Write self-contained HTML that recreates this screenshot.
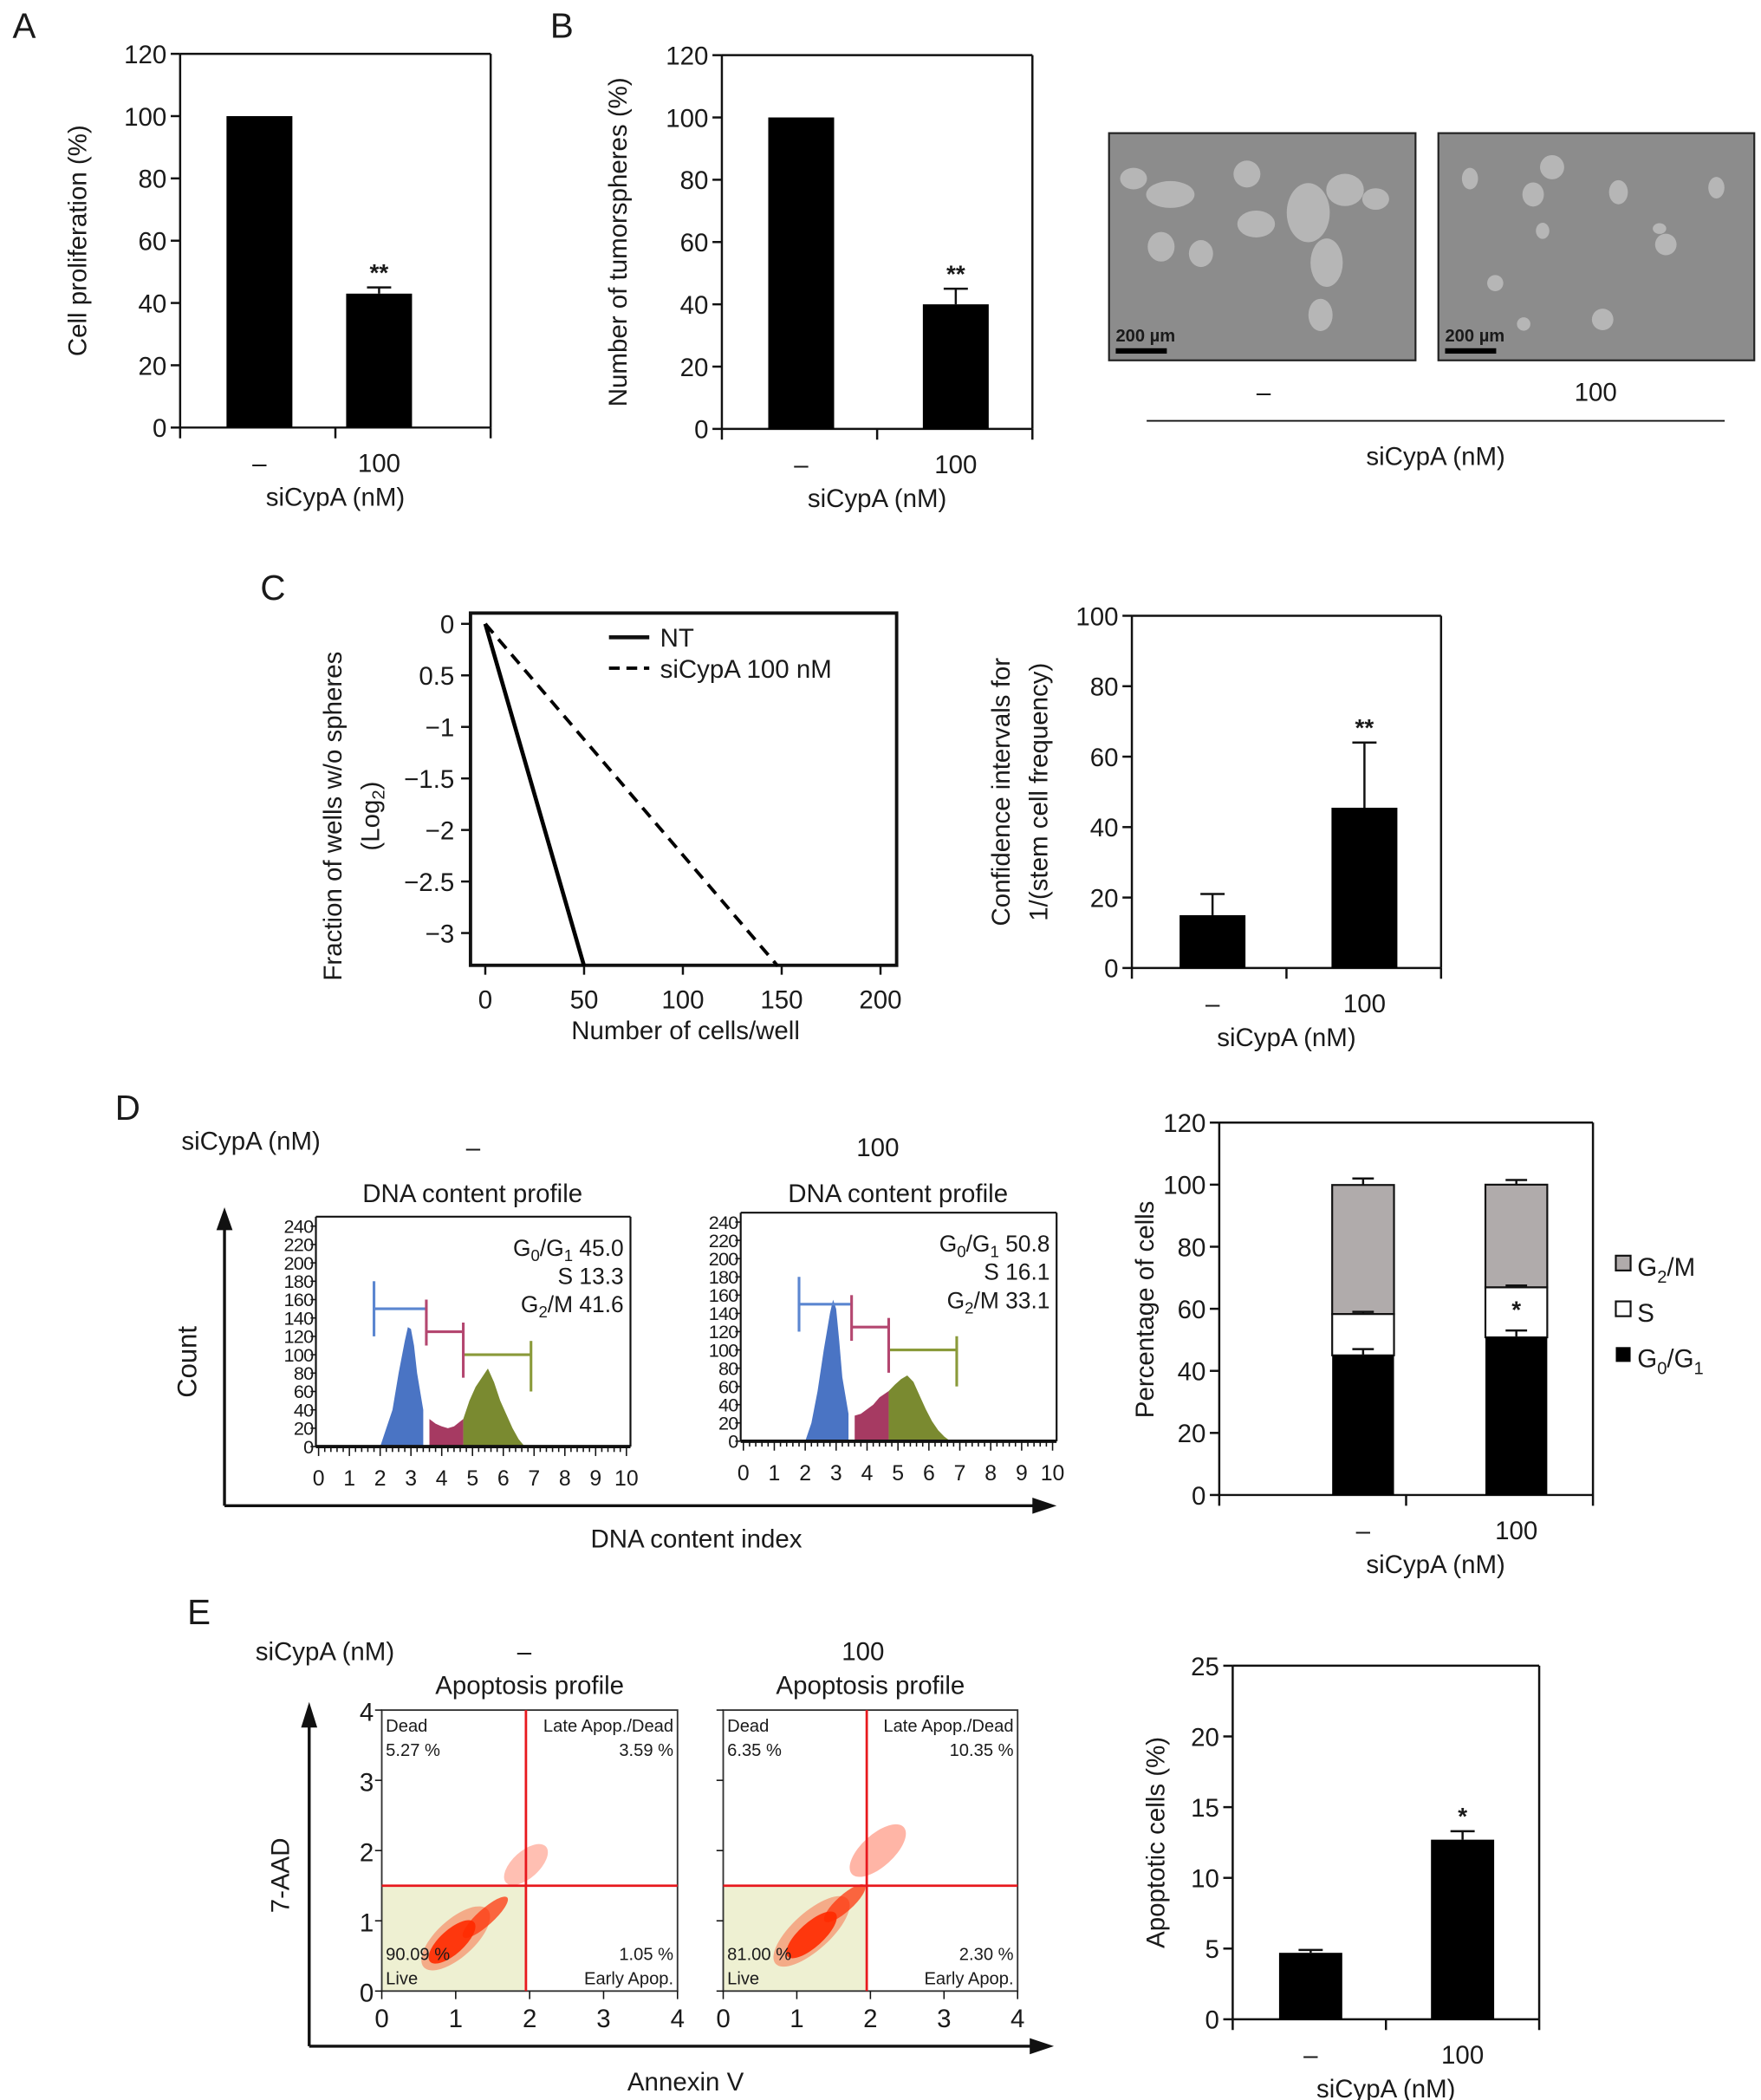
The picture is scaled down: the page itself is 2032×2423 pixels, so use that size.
<!DOCTYPE html>
<html><head><meta charset="utf-8"><style>
html,body{margin:0;padding:0;background:#fff}
svg{display:block}
text{font-family:"Liberation Sans",Arial,sans-serif;fill:#1a1a1a}
</style></head><body>
<svg id="fig" width="2032" height="2423" viewBox="0 0 1310 1562" xmlns="http://www.w3.org/2000/svg">
<g id="root"></g>
</svg>
<script>
// ---------- data ----------
const catLabels = ["–", "100"];
const aValues = [100, 43];
const aErr = [0, 45];
const bValues = [100, 40];
const bErr = [0, 45];
const yTicks120 = [0, 20, 40, 60, 80, 100, 120];
const cNT = [[0, 0], [50, -3.32]];
const cSi = [[0, 0], [148, -3.32]];
const cXTicks = [0, 50, 100, 150, 200];
const cYTicks = [0, -0.5, -1, -1.5, -2, -2.5, -3];
const cYTickLabels = ["0", "0.5", "−1", "−1.5", "−2", "−2.5", "−3"];
const cfValues = [15, 45.5];
const cfErr = [21, 64];
const yTicks100 = [0, 20, 40, 60, 80, 100];
const g01 = [45.0, 50.8];
const sPh = [13.3, 16.1];
const g2m = [41.6, 33.1];
const g01Err = [47, 53];
const sErr = [59, 67.5];
const g2Err = [102, 101.5];
const histX = [2.0, 2.2, 2.4, 2.6, 2.8, 2.9, 3.0, 3.1, 3.2, 3.4, 3.6, 3.8, 4.0, 4.2, 4.4, 4.7, 4.9, 5.1, 5.3, 5.5, 5.7, 5.9, 6.1, 6.3, 6.5, 6.7];
const hist1 = [0, 20, 40, 80, 115, 130, 128, 110, 80, 40, 30, 25, 22, 20, 22, 30, 50, 65, 75, 85, 70, 50, 35, 20, 8, 0];
const hist2 = [0, 20, 55, 100, 140, 155, 145, 110, 70, 30, 28, 30, 35, 40, 48, 55, 62, 68, 72, 65, 50, 35, 22, 12, 5, 0];
const histTicks = [0, 20, 40, 60, 80, 100, 120, 140, 160, 180, 200, 220, 240];
const dnaXTicks = [0, 1, 2, 3, 4, 5, 6, 7, 8, 9, 10];
const apTicks = [0, 1, 2, 3, 4];
const apValues = [4.7, 12.7];
const apErr = [4.9, 13.3];
const apYTicks = [0, 5, 10, 15, 20, 25];

const NS = "http://www.w3.org/2000/svg";
const root = document.getElementById("root");
function mk(tag, attrs, parent) {
  const e = document.createElementNS(NS, tag);
  for (const k in attrs) e.setAttribute(k, attrs[k]);
  (parent || root).appendChild(e);
  return e;
}
function txt(x, y, s, size, anchor, name, extra) {
  const t = mk("text", Object.assign({x: x, y: y, "font-size": size, "text-anchor": anchor || "middle"}, extra || {}));
  t.textContent = s;
  
  
  return t;
}
function line(x1, y1, x2, y2, name, w, col, dash) {
  const l = mk("line", {x1: x1, y1: y1, x2: x2, y2: y2, stroke: col || "#111", "stroke-width": w || 1.6});
  if (dash) l.setAttribute("stroke-dasharray", dash);
  
  
  return l;
}
function rect(x, y, w, h, fill, name, stroke) {
  const r = mk("rect", {x: x, y: y, width: w, height: h, fill: fill});
  if (stroke) { r.setAttribute("stroke", stroke); r.setAttribute("stroke-width", 1.4); }
  
  
  return r;
}
function lin(d0, d1, r0, r1) { return v => r0 + (v - d0) * (r1 - r0) / (d1 - d0); }

function barPanel(o) {
  const y = lin(0, o.ymax, o.y0, o.y1);
  line(o.x0, o.y1, o.x1, o.y1, o.id + "-top-border");
  line(o.x1, o.y1, o.x1, o.y0, o.id + "-right-border");
  line(o.x0, o.y0, o.x1, o.y0, o.id + "-x-axis");
  line(o.x0, o.y0 + 8, o.x0, o.y1, o.id + "-y-axis");
  line(o.x1, o.y0, o.x1, o.y0 + 8, o.id + "-x-tick-end");
  line((o.x0 + o.x1) / 2, o.y0, (o.x0 + o.x1) / 2, o.y0 + 8, o.id + "-x-tick-mid");
  o.ticks.forEach(t => {
    line(o.x0 - 7, y(t), o.x0, y(t), o.id + "-y-tick");
    txt(o.x0 - 10, y(t) + 7, String(t), 19, "end", o.id + "-y-tick-label");
  });
  o.vals.forEach((v, i) => {
    const cx = o.cx[i];
    if (o.err[i] > v) {
      line(cx, y(v), cx, y(o.err[i]), o.id + "-error-bar");
      line(cx - 9, y(o.err[i]), cx + 9, y(o.err[i]), o.id + "-error-cap");
    }
    rect(cx - o.bw / 2, y(v), o.bw, y(0) - y(v), "#000", o.id + "-bar-" + i);
    txt(cx, o.y0 + 33, catLabels[i], 19, "middle", o.id + "-category-label");
  });
  if (o.star) txt(o.cx[1], y(o.err[1]) - 5, o.star, 18, "middle", o.id + "-significance", {"font-weight": "bold"});
  txt((o.x0 + o.x1) / 2, o.y0 + 58, "siCypA (nM)", 19, "middle", o.id + "-x-axis-title");
  const yc = (o.y0 + o.y1) / 2;
  o.title.forEach((s, k) => {
    txt(o.tx + k * 28, yc, s, 19, "middle", o.id + "-y-axis-title", {transform: "rotate(-90 " + (o.tx + k * 28) + " " + yc + ")"});
  });
}

[["A", 18, 28], ["B", 418, 28], ["C", 203, 446], ["D", 95, 833], ["E", 148, 1208]].forEach(p => txt(p[1], p[2], p[0], 26, "middle", "panel-letter-" + p[0].toLowerCase()));

barPanel({id: "panel-a", x0: 134, x1: 365, y0: 318, y1: 40, ymax: 120, ticks: yTicks120, vals: aValues, err: aErr, cx: [193, 282], bw: 49, star: "**", tx: 64, title: ["Cell proliferation (%)"]});
barPanel({id: "panel-b", x0: 537, x1: 768, y0: 319, y1: 41, ymax: 120, ticks: yTicks120, vals: bValues, err: bErr, cx: [596, 711], bw: 49, star: "**", tx: 466, title: ["Number of tumorspheres (%)"]});

function micro(x, y, w, h, name, blobs) {
  rect(x, y, w, h, "#8c8c8c", name, "#222");
  blobs.forEach(b => {
    const e = mk("ellipse", {cx: x + b[0] * w, cy: y + b[1] * h, rx: b[2], ry: b[3], fill: "#c0c0c0", opacity: 0.8});
    
    
  });
  rect(x + 5, y + 160, 38, 4, "#000", name + "-scale-bar");
  txt(x + 5, y + 155, "200 µm", 13, "start", name + "-scale-label", {"font-weight": "bold"});
}
micro(825, 99, 228, 169, "micrograph-nt", [[0.08,0.2,10,8],[0.2,0.27,18,10],[0.45,0.18,10,10],[0.48,0.4,14,10],[0.65,0.35,16,22],[0.77,0.25,14,12],[0.17,0.5,10,11],[0.3,0.53,9,10],[0.71,0.57,12,18],[0.69,0.8,9,12],[0.87,0.29,10,8]]);
micro(1070, 99, 235, 169, "micrograph-sicypa", [[0.1,0.2,6,8],[0.36,0.15,9,9],[0.3,0.27,8,9],[0.57,0.26,7,9],[0.88,0.24,6,8],[0.33,0.43,5,6],[0.72,0.49,8,8],[0.18,0.66,6,6],[0.52,0.82,8,8],[0.27,0.84,5,5],[0.7,0.42,5,4]]);
txt(940, 298, "–", 19, "middle", "micrograph-label-nt");
txt(1187, 298, "100", 19, "middle", "micrograph-label-sicypa");
line(853, 313, 1283, 313, "micrograph-group-line", 1.2);
txt(1068, 346, "siCypA (nM)", 19, "middle", "micrograph-x-title");

(function () {
  const x = lin(0, 200, 361, 655), y = lin(0, -3, 464, 694);
  const X0 = 350, X1 = 667, Y0 = 718, Y1 = 456;
  mk("rect", {x: X0, y: Y1, width: X1 - X0, height: Y0 - Y1, fill: "none", stroke: "#111", "stroke-width": 2.5});
  cXTicks.forEach(t => { line(x(t), Y0, x(t), Y0 + 7, "panel-c-x-tick"); txt(x(t), Y0 + 32, String(t), 19, "middle", "panel-c-x-tick-label"); });
  cYTicks.forEach((t, i) => { line(X0 - 7, y(t), X0, y(t), "panel-c-y-tick"); txt(X0 - 12, y(t) + 7, cYTickLabels[i], 19, "end", "panel-c-y-tick-label"); });
  const l1 = mk("polyline", {points: cNT.map(p => x(p[0]) + "," + y(p[1])).join(" "), fill: "none", stroke: "#000", "stroke-width": 3});
  
  
  const l2 = mk("polyline", {points: cSi.map(p => x(p[0]) + "," + y(p[1])).join(" "), fill: "none", stroke: "#000", "stroke-width": 2.5, "stroke-dasharray": "9,6"});
  
  
  line(453, 474, 483, 474, "legend-nt-swatch", 3);
  txt(491, 481, "NT", 19, "start", "legend-nt-label");
  line(453, 497, 483, 497, "legend-sicypa-swatch", 2.5, "#000", "8,5");
  txt(491, 504, "siCypA 100 nM", 19, "start", "legend-sicypa-label");
  txt(510, 773, "Number of cells/well", 19, "middle", "panel-c-x-axis-title");
  txt(254, 607, "Fraction of wells w/o spheres", 19, "middle", "panel-c-y-axis-title", {transform: "rotate(-90 254 607)"});
  const t = txt(282, 607, "(Log", 19, "middle", "panel-c-y-axis-unit", {transform: "rotate(-90 282 607)"});
  const ts = mk("tspan", {"font-size": 13, dy: 4}, t); ts.textContent = "2";
  const ts2 = mk("tspan", {dy: -4}, t); ts2.textContent = ")";
})();
barPanel({id: "panel-c-ci", x0: 842, x1: 1072, y0: 720, y1: 458, ymax: 100, ticks: yTicks100, vals: cfValues, err: cfErr, cx: [902, 1015], bw: 49, star: "**", tx: 751, title: ["Confidence intervals for", "1/(stem cell frequency)"]});

txt(135, 855, "siCypA (nM)", 19, "start", "panel-d-condition-label");
txt(352, 860, "–", 19, "middle", "panel-d-condition-nt");
txt(653, 860, "100", 19, "middle", "panel-d-condition-sicypa");
function histo(o) {
  const x = lin(0, 10, o.x0, o.x1), y = lin(0, 240, o.yb, o.yt);
  txt((o.x0 + o.x1) / 2, 894, "DNA content profile", 19, "middle", o.id + "-title");
  line(o.x0 - 2, o.yt - 7, o.x1 + 3, o.yt - 7, o.id + "-top-border", 1.4);
  line(o.x1 + 3, o.yt - 7, o.x1 + 3, o.yb, o.id + "-right-border", 1.4);
  const segs = [[2.0, 3.5, "#4a74c4"], [3.5, 4.7, "#a63a62"], [4.7, 6.8, "#7a8a30"]];
  segs.forEach((s, k) => {
    const pts = [];
    histX.forEach((hx, i) => { if (hx >= s[0] - 0.01 && hx <= s[1] + 0.01) pts.push(x(hx) + "," + y(o.data[i])); });
    const ends = histX.filter(h => h >= s[0] - 0.01 && h <= s[1] + 0.01);
    pts.push(x(ends[ends.length - 1]) + "," + y(0));
    pts.unshift(x(ends[0]) + "," + y(0));
    const p = mk("polygon", {points: pts.join(" "), fill: s[2]});
    
    
  });
  line(o.x0 - 2, o.yb, o.x1 + 3, o.yb, o.id + "-x-axis", 2.5);
  line(o.x0 - 2, o.yb, o.x0 - 2, o.yt - 7, o.id + "-y-axis", 1.4);
  histTicks.forEach(t => { line(o.x0 - 6, y(t), o.x0 - 2, y(t), o.id + "-y-tick", 1); txt(o.x0 - 4, y(t) + 5, String(t), 14, "end", o.id + "-y-tick-label", {"letter-spacing": "-0.5"}); });
  for (let i = 0; i <= 50; i++) line(x(i / 5), o.yb, x(i / 5), o.yb + (i % 5 ? 4 : 7), o.id + "-x-minor-tick", 1);
  dnaXTicks.forEach(t => txt(x(t), o.yb + 29, String(t), 16, "middle", o.id + "-x-tick-label"));
  const yg = v => y(v);
  line(x(1.8), yg(150), x(3.5), yg(150), o.id + "-gate-g0g1", 2, "#5b86d0"); line(x(1.8), yg(180), x(1.8), yg(120), o.id + "-gate-g0g1-end", 2, "#5b86d0");
  line(x(3.5), yg(125), x(4.7), yg(125), o.id + "-gate-s", 2, "#b44770"); line(x(3.5), yg(160), x(3.5), yg(110), o.id + "-gate-s-end", 2, "#b44770");
  line(x(4.7), yg(100), x(6.9), yg(100), o.id + "-gate-g2m", 2, "#8a9a3a"); line(x(4.7), yg(135), x(4.7), yg(75), o.id + "-gate-g2m-end", 2, "#b44770"); line(x(6.9), yg(115), x(6.9), yg(60), o.id + "-gate-g2m-end2", 2, "#8a9a3a");
  const tx = o.x1 - 2;
  const a = txt(tx, o.yt + 22, "", 17, "end", o.id + "-stat-g0g1");
  a.innerHTML = 'G<tspan font-size="12" dy="4">0</tspan><tspan dy="-4">/G</tspan><tspan font-size="12" dy="4">1</tspan><tspan dy="-4"> ' + o.g + '</tspan>';
  txt(tx, o.yt + 43, "S " + o.s, 17, "end", o.id + "-stat-s");
  const c = txt(tx, o.yt + 64, "", 17, "end", o.id + "-stat-g2m");
  c.innerHTML = 'G<tspan font-size="12" dy="4">2</tspan><tspan dy="-4">/M ' + o.m + '</tspan>';
}
histo({id: "hist-nt", x0: 237, x1: 466, yb: 1076, yt: 912, data: hist1, g: g01[0].toFixed(1), s: sPh[0].toFixed(1), m: g2m[0].toFixed(1)});
histo({id: "hist-sicypa", x0: 553, x1: 783, yb: 1072, yt: 909, data: hist2, g: g01[1].toFixed(1), s: sPh[1].toFixed(1), m: g2m[1].toFixed(1)});
line(167, 1120, 167, 912, "count-axis-arrow", 2.2);
mk("polygon", {points: "161,915 173,915 167,898", fill: "#111"});
line(167, 1120, 770, 1120, "dna-axis-arrow", 2.2);
mk("polygon", {points: "768,1114 768,1126 786,1120", fill: "#111"});
txt(146, 1013, "Count", 20, "middle", "count-axis-title", {transform: "rotate(-90 146 1013)"});
txt(518, 1151, "DNA content index", 19, "middle", "dna-axis-title");

(function () {
  const X0 = 907, X1 = 1185, Y0 = 1112, Y1 = 835;
  const y = lin(0, 120, Y0, Y1);
  line(X0, Y1, X1, Y1, "panel-d-bar-top-border"); line(X1, Y1, X1, Y0 + 8, "panel-d-bar-right-border");
  line(X0, Y0, X1, Y0, "panel-d-bar-x-axis"); line(X0, Y0 + 8, X0, Y1, "panel-d-bar-y-axis");
  line((X0 + X1) / 2, Y0, (X0 + X1) / 2, Y0 + 8, "panel-d-bar-x-tick");
  yTicks120.forEach(t => { line(X0 - 7, y(t), X0, y(t), "panel-d-bar-y-tick"); txt(X0 - 10, y(t) + 7, String(t), 19, "end", "panel-d-bar-y-tick-label"); });
  const cx = [1014, 1128], bw = 46;
  cx.forEach((c, i) => {
    const b1 = g01[i], b2 = b1 + sPh[i], b3 = b2 + g2m[i];
    [[g2Err[i], b3], [sErr[i], b2], [g01Err[i], b1]].forEach(e => { line(c, y(e[1]), c, y(e[0]), "stack-error-bar"); line(c - 8, y(e[0]), c + 8, y(e[0]), "stack-error-cap"); });
    rect(c - bw / 2, y(b3), bw, y(b2) - y(b3), "#b0abab", "stack-g2m-" + i, "#111");
    rect(c - bw / 2, y(b2), bw, y(b1) - y(b2), "#fff", "stack-s-" + i, "#111");
    rect(c - bw / 2, y(b1), bw, y(0) - y(b1), "#000", "stack-g0g1-" + i);
    [[g01Err[i], b1], [sErr[i], b2]].forEach(e => { line(c, y(e[1]), c, y(e[0]), "stack-error-bar"); line(c - 8, y(e[0]), c + 8, y(e[0]), "stack-error-cap"); });
    txt(c, Y0 + 33, catLabels[i], 19, "middle", "panel-d-bar-category-label");
  });
  txt(cx[1], y(sErr[1]) + 24, "*", 18, "middle", "panel-d-significance", {"font-weight": "bold"});
  txt(1068, Y0 + 58, "siCypA (nM)", 19, "middle", "panel-d-bar-x-title");
  txt(858, 974, "Percentage of cells", 19, "middle", "panel-d-bar-y-title", {transform: "rotate(-90 858 974)"});
  rect(1202, 934, 11, 11, "#b0abab", "legend-g2m-swatch", "#111");
  const l1 = txt(1218, 949, "", 19, "start", "legend-g2m-label"); l1.innerHTML = 'G<tspan font-size="13" dy="5">2</tspan><tspan dy="-5">/M</tspan>';
  rect(1202, 968, 11, 11, "#fff", "legend-s-swatch", "#111");
  txt(1218, 983, "S", 19, "start", "legend-s-label");
  rect(1202, 1002, 11, 11, "#000", "legend-g0g1-swatch");
  const l3 = txt(1218, 1017, "", 19, "start", "legend-g0g1-label"); l3.innerHTML = 'G<tspan font-size="13" dy="5">0</tspan><tspan dy="-5">/G</tspan><tspan font-size="13" dy="5">1</tspan>';
})();

txt(190, 1235, "siCypA (nM)", 19, "start", "panel-e-condition-label");
txt(390, 1235, "–", 19, "middle", "panel-e-condition-nt");
txt(642, 1235, "100", 19, "middle", "panel-e-condition-sicypa");
function scatterPanel(o) {
  const x = lin(0, 4, o.x0, o.x1), y = lin(0, 4, 1481, 1272);
  txt((o.x0 + o.x1) / 2, 1260, "Apoptosis profile", 19, "middle", o.id + "-title");
  rect(o.x0, y(1.5), x(1.95) - o.x0, 1481 - y(1.5), "#eef0d2", o.id + "-live-quadrant");
  mk("rect", {x: o.x0, y: 1272, width: o.x1 - o.x0, height: 209, fill: "none", stroke: "#333", "stroke-width": 1.2});
  o.blobs.forEach(b => {
    const e = mk("ellipse", {cx: x(b[0]), cy: y(b[1]), rx: b[2], ry: b[3], fill: "#ff2a00", opacity: b[4], transform: "rotate(-42 " + x(b[0]) + " " + y(b[1]) + ")"});
    
    
  });
  line(x(1.95), 1272, x(1.95), 1481, o.id + "-gate-vertical", 1.8, "#e8191e");
  line(o.x0, y(1.5), o.x1, y(1.5), o.id + "-gate-horizontal", 1.8, "#e8191e");
  apTicks.forEach(t => { line(x(t), 1481, x(t), 1487, o.id + "-x-tick", 1); txt(x(t), 1508, String(t), 19, "middle", o.id + "-x-tick-label"); });
  if (o.yl) apTicks.forEach(t => txt(o.x0 - 6, y(t) + 8, String(t), 19, "end", o.id + "-y-tick-label"));
  apTicks.forEach(t => line(o.x0 - 5, y(t), o.x0, y(t), o.id + "-y-tick", 1));
  txt(o.x0 + 3, 1288, "Dead", 13, "start", o.id + "-q-dead");
  txt(o.x0 + 3, 1306, o.q[0], 13, "start", o.id + "-q-dead-pct");
  txt(o.x1 - 3, 1288, "Late Apop./Dead", 13, "end", o.id + "-q-late");
  txt(o.x1 - 3, 1306, o.q[1], 13, "end", o.id + "-q-late-pct");
  txt(o.x0 + 3, 1458, o.q[2], 13, "start", o.id + "-q-live-pct");
  txt(o.x0 + 3, 1476, "Live", 13, "start", o.id + "-q-live");
  txt(o.x1 - 3, 1458, o.q[3], 13, "end", o.id + "-q-early-pct");
  txt(o.x1 - 3, 1476, "Early Apop.", 13, "end", o.id + "-q-early");
}
scatterPanel({id: "scatter-nt", x0: 284, x1: 504, yl: true, q: ["5.27 %", "3.59 %", "90.09 %", "1.05 %"],
  blobs: [[1.0, 0.75, 32, 14, 0.35], [0.95, 0.7, 22, 9, 0.9], [1.4, 1.05, 22, 6, 0.7], [1.95, 1.8, 20, 10, 0.3]]});
scatterPanel({id: "scatter-sicypa", x0: 538, x1: 757, yl: false, q: ["6.35 %", "10.35 %", "81.00 %", "2.30 %"],
  blobs: [[1.2, 0.85, 36, 14, 0.35], [1.2, 0.8, 24, 9, 0.9], [1.65, 1.25, 20, 6, 0.7], [2.1, 2.0, 26, 12, 0.35]]});
line(230, 1522, 230, 1283, "7aad-axis-arrow", 2.2);
mk("polygon", {points: "224,1285 236,1285 230,1266", fill: "#111"});
line(230, 1522, 768, 1522, "annexin-axis-arrow", 2.2);
mk("polygon", {points: "766,1516 766,1528 784,1522", fill: "#111"});
txt(215, 1395, "7-AAD", 19, "middle", "7aad-axis-title", {transform: "rotate(-90 215 1395)"});
txt(510, 1555, "Annexin V", 19, "middle", "annexin-axis-title");

barPanel({id: "panel-e", x0: 917, x1: 1145, y0: 1502, y1: 1239, ymax: 25, ticks: apYTicks, vals: apValues, err: apErr, cx: [975, 1088], bw: 47, star: "*", tx: 866, title: ["Apoptotic cells (%)"]});
</script>
</body></html>
